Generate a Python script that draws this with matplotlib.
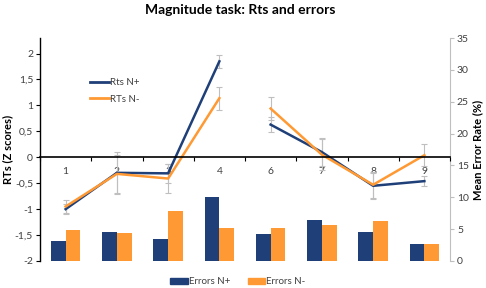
import numpy as np
import matplotlib.pyplot as plt
from matplotlib.patches import Patch
from matplotlib.lines import Line2D

plt.rcParams['font.family'] = ['Lato', 'DejaVu Sans']

# data
numbers = ['1', '2', '3', '4', '6', '7', '8', '9']
rt_plus = [-1.00, -0.30, -0.31, 1.85, 0.63, 0.10, -0.55, -0.46]
rt_plus_err = [0.10, 0.40, 0.18, 0.13, 0.15, 0.27, 0.25, 0.10]
rt_minus = [-0.95, -0.32, -0.41, 1.14, 0.94, 0.05, -0.53, 0.04]
rt_minus_err = [0.12, 0.36, 0.28, 0.22, 0.22, 0.30, 0.25, 0.21]
err_plus = [3.1, 4.6, 3.5, 10.1, 4.3, 6.4, 4.6, 2.7]
err_minus = [4.8, 4.35, 7.9, 5.25, 5.25, 5.7, 6.2, 2.6]

blue = '#1F3F78'
orange = '#FF9933'
grey = '#BFBFBF'
txt = '#404040'

x = np.arange(len(numbers))

fig = plt.figure(figsize=(4.86, 2.88), dpi=100)
ax = fig.add_axes([40/486, 1 - 261/288, 410/486, 223/288])
ax2 = ax.twinx()

# bars on the right axis (drawn below)
w = 0.287
ax2.bar(x - w/2, err_plus, w, color=blue, zorder=2)
ax2.bar(x + w/2, err_minus, w, color=orange, zorder=2)
ax2.set_ylim(0, 35)
ax2.set_yticks(range(0, 36, 5))
ax2.tick_params(axis='y', colors=grey, labelcolor=txt, labelsize=7.5, length=3, pad=2)
for s in ['top', 'left', 'bottom']:
    ax2.spines[s].set_visible(False)
ax2.spines['right'].set_color(grey)
ax2.set_ylabel('Mean Error Rate (%)', fontsize=8, fontweight='bold')
ax2.yaxis.set_label_coords(1.053, 0.5)

ax.set_zorder(ax2.get_zorder() + 1)
ax.patch.set_visible(False)

# RT lines, broken between 4 and 6
for seg in [slice(0, 4), slice(4, 8)]:
    ax.errorbar(x[seg], rt_plus[seg], yerr=rt_plus_err[seg], color=blue, lw=1.8,
                ecolor=grey, elinewidth=0.8, capsize=2, capthick=0.8)
    ax.errorbar(x[seg], rt_minus[seg], yerr=rt_minus_err[seg], color=orange, lw=1.8,
                ecolor=grey, elinewidth=0.8, capsize=2, capthick=0.8)

ax.set_xlim(-0.5, len(numbers) - 0.5)
ax.set_ylim(-2, 2.3)
ax.set_yticks(np.arange(-2, 2.01, 0.5))
ax.set_yticklabels([f'{v:g}'.replace('.', ',') for v in np.arange(-2, 2.01, 0.5)])
ax.tick_params(axis='y', labelcolor=txt, labelsize=7.5, length=3, width=0.8, pad=2)
ax.spines['top'].set_visible(False)
ax.spines['right'].set_visible(False)
ax.spines['left'].set_linewidth(1)
ax.spines['bottom'].set_position(('data', 0))
ax.spines['bottom'].set_linewidth(1.2)
ax.set_xticks(x)
ax.set_xticklabels(numbers)
ax.set_xticks(np.arange(-0.5, len(numbers), 1), minor=True)
ax.tick_params(axis='x', which='major', length=0, labelsize=7.5, labelcolor=txt, pad=7)
ax.tick_params(axis='x', which='minor', length=3, width=0.8)
ax.set_ylabel('RTs (Z scores)', fontsize=8, fontweight='bold')
ax.yaxis.set_label_coords(-0.066, 0.5)

ax.legend(handles=[Line2D([], [], color=blue, lw=2, label='Rts N+'),
                   Line2D([], [], color=orange, lw=2, label='RTs N-')],
          loc='upper left', bbox_to_anchor=(0.1, 0.86), frameon=False,
          fontsize=7, handlelength=2.0, handletextpad=0.1, labelspacing=0.8,
          labelcolor=txt)

fig.legend(handles=[Patch(color=blue, label='Errors N+'),
                    Patch(color=orange, label='Errors N-')],
           loc='center', bbox_to_anchor=(238/486, 1 - 282/288), ncol=2, frameon=False,
           fontsize=7, handlelength=1.8, handleheight=0.5, handletextpad=0.1,
           columnspacing=1.8, labelcolor=txt)

fig.suptitle('Magnitude task: Rts and errors', x=240/486, y=1 - 10/288, va='center',
             fontsize=10, fontweight='bold')

fig.savefig('out.png', dpi=100)
